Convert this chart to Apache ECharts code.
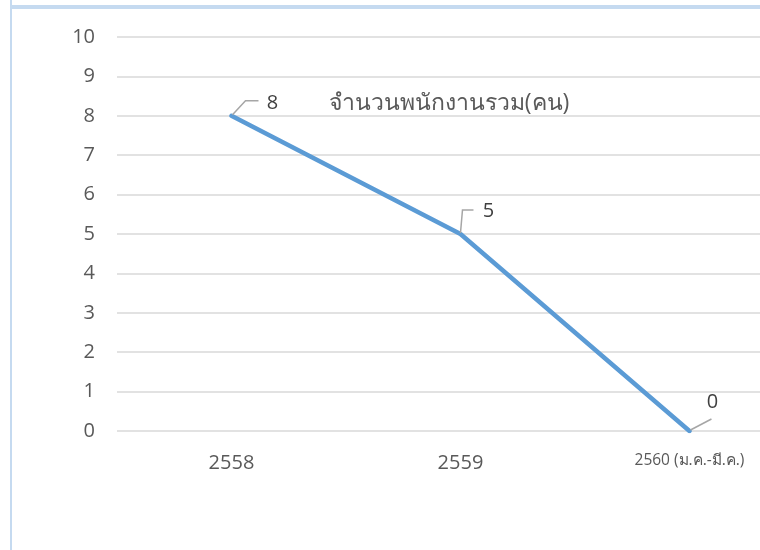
<!DOCTYPE html>
<html>
<head>
<meta charset="utf-8">
<script src="https://cdn.jsdelivr.net/npm/echarts@6/dist/echarts.min.js"></script>
<style>html,body{margin:0;padding:0;background:#fff;}#c{width:760px;height:550px;}</style>
</head>
<body>
<div id="c"></div>
<script>
var categories = ['2558', '2559', '2560 (ม.ค.-มี.ค.)'];
var values = [8, 5, 0];
var seriesName = 'จำนวนพนักงานรวม(คน)';

// leader-line / label placement relative to each point (styling only)
var leaderStyle = [
  { label: [41, -13], pts: [[1, -1], [14, -15], [27, -15]] },
  { label: [28, -23], pts: [[0, -1], [2, -24], [13, -24]] },
  { label: [23, -29], pts: [[1, -1], [22, -12]] }
];

var chart = echarts.init(document.getElementById('c'));
var FONT = '"Open Sans", "Noto Sans", "DejaVu Sans", sans-serif';
var points = values.map(function (v, i) { return [i, v]; });
var seriesData = points.map(function (pt, i) {
  return { value: pt, label: { offset: leaderStyle[i].label } };
});
var borders = [
  { type: 'rect', z: 0, shape: { x: 11, y: -20, width: 800, height: 26 }, style: { fill: 'none', stroke: '#c5daf0', lineWidth: 2 } },
  { type: 'rect', z: 0, shape: { x: 11, y: 8, width: 800, height: 600 }, style: { fill: 'none', stroke: '#c5daf0', lineWidth: 2 } }
];
chart.setOption({
  animation: false,
  textStyle: { fontFamily: FONT },
  graphic: borders,
  title: {
    text: seriesName,
    left: 444, top: 87,
    textAlign: 'center',
    textStyle: { fontFamily: FONT, fontSize: 23, fontWeight: 'normal', color: '#595959' }
  },
  grid: { left: 117, top: 37, right: 0, height: 394 },
  xAxis: {
    type: 'value',
    min: -0.5,
    max: 2.308,
    interval: 0.5,
    axisLine: { show: false },
    axisTick: { show: false },
    splitLine: { show: false },
    axisLabel: {
      margin: 22,
      color: '#595959',
      fontFamily: FONT,
      fontSize: 20,
      showMaxLabel: false,
      showMinLabel: false,
      formatter: function (v) {
        var i = Math.round(v);
        if (Math.abs(v - i) > 1e-6 || i < 0 || i >= categories.length) return '';
        return i === 2 ? '{s|' + categories[i] + '}' : categories[i];
      },
      rich: { s: { fontSize: 15.5, color: '#595959', fontFamily: FONT } }
    }
  },
  yAxis: {
    type: 'value',
    min: 0, max: 10, interval: 1,
    axisLine: { show: false },
    axisTick: { show: false },
    axisLabel: { margin: 22, color: '#595959', fontSize: 20, fontFamily: FONT },
    splitLine: { lineStyle: { color: '#d9d9d9', width: 1.5 } }
  },
  series: [{
    type: 'line',
    name: seriesName,
    data: seriesData,
    showSymbol: true,
    symbol: 'circle',
    symbolSize: 0.1,
    z: 3,
    lineStyle: { color: '#5B9BD5', width: 4.5, cap: 'round', join: 'round' },
    itemStyle: { color: '#5B9BD5' },
    label: {
      show: true,
      position: 'inside',
      color: '#404040',
      fontSize: 20,
      fontFamily: FONT,
      formatter: function (p) { return String(p.value[1]); }
    }
  }]
});

// leader lines anchored on the library's own pixel positions of each point
var leaders = points.map(function (pt, i) {
  var c = chart.convertToPixel({ gridIndex: 0 }, pt);
  return {
    type: 'polyline', z: 10,
    shape: { points: leaderStyle[i].pts.map(function (q) { return [c[0] + q[0], c[1] + q[1]]; }) },
    style: { fill: 'none', stroke: '#a6a6a6', lineWidth: 1.5 }
  };
});
chart.setOption({ graphic: borders.concat(leaders) });
</script>
</body>
</html>
